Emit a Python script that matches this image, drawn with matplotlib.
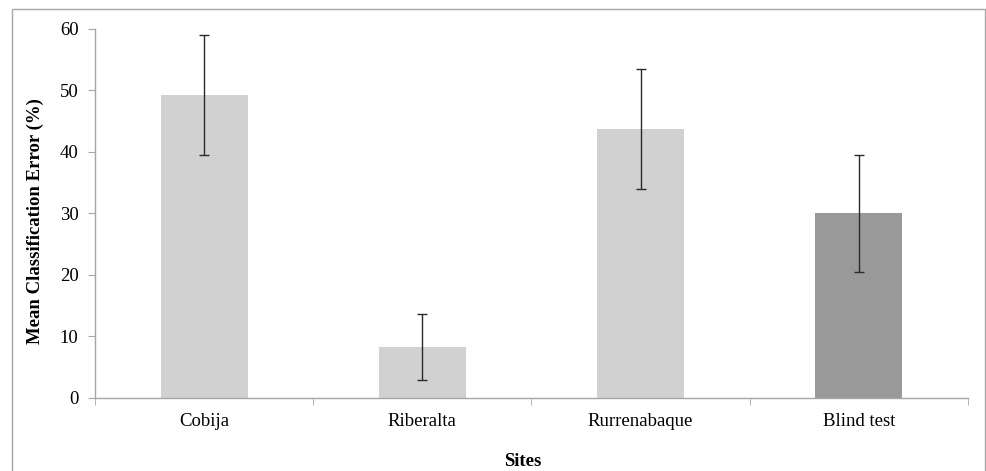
import matplotlib.pyplot as plt
from matplotlib.patches import Rectangle

# values
sites = ["Cobija", "Riberalta", "Rurrenabaque", "Blind test"]
mean_error = [49.2, 8.2, 43.7, 30.0]
err_low = [39.4, 2.9, 34.0, 20.5]
err_high = [59.0, 13.6, 53.4, 39.5]
bar_colors = ["#d0d1d0", "#d0d1d0", "#d0d1d0", "#999999"]
yticks = [0, 10, 20, 30, 40, 50, 60]

plt.rcParams['font.family'] = ['Liberation Serif', 'DejaVu Serif']

fig = plt.figure(figsize=(9.87, 4.71), dpi=100)
ax = fig.add_axes([0.0963, 0.1556, 0.8844, 0.7835])

x = list(range(len(sites)))
yerr = [[m - lo for m, lo in zip(mean_error, err_low)],
        [hi - m for m, hi in zip(mean_error, err_high)]]
ax.bar(x, mean_error, width=0.4, color=bar_colors, zorder=2)
ax.errorbar(x, mean_error, yerr=yerr, fmt="none", ecolor="#2a2a2a",
            elinewidth=1.0, capsize=3.3, capthick=1.0, zorder=3)

ax.set_xlim(-0.5, len(sites) - 0.5)
ax.set_ylim(0, 60)
ax.set_yticks(yticks)
ax.set_xticks(x)
ax.set_xticklabels(sites, fontsize=13.5)
ax.set_xticks([i + 0.5 for i in range(-1, len(sites))], minor=True)
ax.tick_params(axis="x", which="major", length=0, pad=11)
ax.tick_params(axis="x", which="minor", length=5, color="#a6a6a6", direction="out")
ax.tick_params(axis="y", length=5, color="#a6a6a6", labelsize=13.5, pad=7)

for side in ["top", "right"]:
    ax.spines[side].set_visible(False)
for side in ["left", "bottom"]:
    ax.spines[side].set_color("#a6a6a6")
    ax.spines[side].set_linewidth(1.0)

fig.text(35 / 987, 1 - 221 / 471, "Mean Classification Error (%)", fontsize=13.5,
         fontweight="bold", rotation=90, ha="center", va="center")
fig.text(523 / 987, 1 - 462 / 471, "Sites", fontsize=13.5, fontweight="bold",
         ha="center", va="center")

# gray frame around the chart area
fig.patches.append(Rectangle((12 / 987, -0.05), 973 / 987, 1.05 - 9 / 471,
                             transform=fig.transFigure, fill=False,
                             edgecolor="#a6a6a6", linewidth=1.0))

fig.savefig("out.png", dpi=100)
